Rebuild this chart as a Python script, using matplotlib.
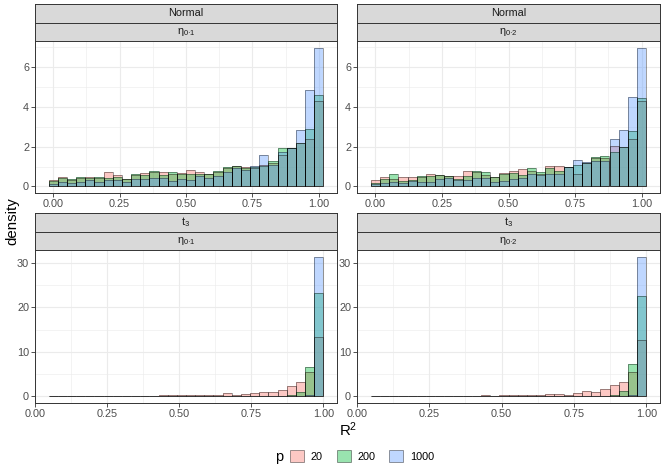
import numpy as np
import matplotlib
matplotlib.use("Agg")
import matplotlib.pyplot as plt
from matplotlib.patches import Patch
from matplotlib.ticker import MultipleLocator

plt.rcParams['font.family'] = ['Liberation Sans', 'DejaVu Sans']
plt.rcParams['mathtext.fontset'] = 'custom'
plt.rcParams['mathtext.rm'] = 'Liberation Sans'
plt.rcParams['mathtext.it'] = 'Liberation Sans:italic'

# ---------------- data ----------------
p_levels = ["20", "200", "1000"]
colors = ["#F8766D", "#00BA38", "#619CFF"]

dist_labels = ["Normal", "Normal", "t$_3$", "t$_3$"]
eta_labels = [r"$\mathrm{η}_{\mathrm{0·1}}$", r"$\mathrm{η}_{\mathrm{0·2}}$",
              r"$\mathrm{η}_{\mathrm{0·1}}$", r"$\mathrm{η}_{\mathrm{0·2}}$"]

# bin edges (30 bins)
normal_edges = np.linspace(-0.5 / 29, 1 + 0.5 / 29, 31)
t3_edges = np.linspace(0.0476, 1.0, 31)

# Normal, eta 0.1
n1_p20 = [0.30, 0.45, 0.30, 0.40, 0.45, 0.40, 0.70, 0.55, 0.35, 0.55,
          0.65, 0.70, 0.70, 0.60, 0.65, 0.80, 0.70, 0.60, 0.70, 0.90,
          1.05, 1.00, 0.90, 1.10, 1.20, 1.60, 1.95, 2.20, 2.40, 4.30]
n1_p200 = [0.25, 0.40, 0.35, 0.45, 0.40, 0.45, 0.40, 0.45, 0.35, 0.60,
           0.55, 0.75, 0.55, 0.70, 0.60, 0.60, 0.60, 0.60, 0.75, 1.00,
           1.05, 0.95, 1.00, 1.05, 1.30, 1.95, 1.95, 2.20, 2.90, 4.60]
n1_p1000 = [0.10, 0.20, 0.15, 0.20, 0.30, 0.20, 0.30, 0.30, 0.20, 0.35,
            0.35, 0.40, 0.40, 0.25, 0.35, 0.30, 0.50, 0.40, 0.50, 0.70,
            0.90, 0.80, 1.05, 1.60, 1.10, 1.75, 1.95, 2.85, 4.85, 6.95]

# Normal, eta 0.2
n2_p20 = [0.30, 0.45, 0.35, 0.45, 0.45, 0.45, 0.60, 0.55, 0.50, 0.50,
          0.75, 0.70, 0.55, 0.45, 0.65, 0.75, 0.85, 0.75, 0.60, 1.05,
          1.05, 1.00, 0.60, 1.20, 1.45, 1.45, 2.05, 2.00, 2.40, 4.30]
n2_p200 = [0.15, 0.35, 0.60, 0.25, 0.30, 0.50, 0.50, 0.55, 0.50, 0.35,
           0.50, 0.75, 0.70, 0.45, 0.60, 0.65, 0.55, 0.90, 0.70, 0.95,
           0.75, 1.00, 1.10, 1.20, 1.50, 1.55, 1.75, 2.00, 2.80, 4.45]
n2_p1000 = [0.10, 0.15, 0.20, 0.15, 0.25, 0.20, 0.20, 0.35, 0.40, 0.30,
            0.30, 0.40, 0.40, 0.20, 0.25, 0.35, 0.40, 0.60, 0.55, 0.60,
            0.60, 1.00, 1.35, 1.25, 1.30, 1.30, 2.40, 2.85, 4.50, 6.95]

# t3, eta 0.1
t1_p20 = [0.03, 0.03, 0.03, 0.04, 0.05, 0.05, 0.10, 0.12, 0.05, 0.10,
          0.12, 0.18, 0.20, 0.28, 0.30, 0.30, 0.25, 0.30, 0.25, 0.65,
          0.30, 0.50, 0.65, 0.95, 1.00, 1.40, 2.40, 3.30, 5.40, 13.40]
t1_p200 = [0.00, 0.00, 0.00, 0.00, 0.00, 0.00, 0.00, 0.00, 0.00, 0.00,
           0.00, 0.00, 0.00, 0.00, 0.00, 0.00, 0.00, 0.00, 0.00, 0.00,
           0.00, 0.00, 0.00, 0.00, 0.02, 0.05, 0.30, 1.00, 6.70, 23.30]
t1_p1000 = [0.00, 0.00, 0.00, 0.00, 0.00, 0.00, 0.00, 0.00, 0.00, 0.00,
            0.00, 0.00, 0.00, 0.00, 0.00, 0.00, 0.00, 0.00, 0.00, 0.00,
            0.00, 0.00, 0.00, 0.00, 0.00, 0.00, 0.00, 0.02, 0.20, 31.30]

# t3, eta 0.2
t2_p20 = [0.03, 0.03, 0.03, 0.04, 0.04, 0.05, 0.15, 0.05, 0.05, 0.08,
          0.10, 0.12, 0.20, 0.18, 0.20, 0.22, 0.25, 0.20, 0.25, 0.45,
          0.45, 0.40, 0.70, 1.10, 0.90, 1.60, 2.50, 3.20, 5.40, 12.60]
t2_p200 = [0.00, 0.00, 0.00, 0.00, 0.00, 0.00, 0.00, 0.00, 0.00, 0.00,
           0.00, 0.00, 0.00, 0.00, 0.00, 0.00, 0.00, 0.00, 0.00, 0.00,
           0.00, 0.00, 0.00, 0.00, 0.02, 0.05, 0.40, 1.10, 7.20, 22.50]
t2_p1000 = [0.00, 0.00, 0.00, 0.00, 0.00, 0.00, 0.00, 0.00, 0.00, 0.00,
            0.00, 0.00, 0.00, 0.00, 0.00, 0.00, 0.00, 0.00, 0.00, 0.00,
            0.00, 0.00, 0.00, 0.00, 0.00, 0.00, 0.00, 0.02, 0.20, 31.30]

panels = [
    (normal_edges, [n1_p20, n1_p200, n1_p1000]),
    (normal_edges, [n2_p20, n2_p200, n2_p1000]),
    (t3_edges, [t1_p20, t1_p200, t1_p1000]),
    (t3_edges, [t2_p20, t2_p200, t2_p1000]),
]

# ---------------- layout ----------------
W, H = 664, 471
fig = plt.figure(figsize=(W / 100, H / 100), dpi=100)
fig.patch.set_facecolor("white")

def ax_px(x0, y0, x1, y1):
    return fig.add_axes([x0 / W, 1 - y1 / H, (x1 - x0) / W, (y1 - y0) / H])

cols = [(35, 337), (357, 660)]
rows = [(4, 22.7, 41.3, 193.3), (213.3, 231.8, 250.3, 403.3)]

edge_col = "#333333"
tick_col = "#4D4D4D"
grid_col = "#EBEBEB"

for k, (edges, series) in enumerate(panels):
    r, c = divmod(k, 2)
    x0, x1 = cols[c]
    s0, s1, s2, pb = rows[r]
    # strips
    for (ya, yb, lab) in [(s0, s1, dist_labels[k]), (s1, s2, eta_labels[k])]:
        sa = ax_px(x0, ya, x1, yb)
        sa.set_facecolor("#D9D9D9")
        sa.set_xticks([]); sa.set_yticks([])
        for sp in sa.spines.values():
            sp.set_color(edge_col); sp.set_linewidth(0.7)
        sa.text(0.5, 0.5, lab, ha="center", va="center", fontsize=7.8,
                color="#1A1A1A", transform=sa.transAxes)
    ax = ax_px(x0, s2, x1, pb)
    edges = np.asarray(edges)
    centers = (edges[:-1] + edges[1:]) / 2
    bw = edges[1] - edges[0]
    ymax = 0
    for vals, col in zip(series, colors):
        ax.bar(centers, vals, width=bw, color=col, alpha=0.4, zorder=3,
               linewidth=0)
        ax.bar(centers, vals, width=bw, facecolor="none",
               edgecolor=(0, 0, 0, 0.45), linewidth=0.6, zorder=4)
        ymax = max(ymax, max(vals))
    lo, hi = edges[0], edges[-1]
    ax.set_xlim(lo - 0.05 * (hi - lo), hi + 0.05 * (hi - lo))
    ax.set_ylim(-0.05 * ymax, 1.05 * ymax)
    ax.xaxis.set_major_locator(MultipleLocator(0.25))
    ax.xaxis.set_minor_locator(MultipleLocator(0.125))
    if r == 0:
        ax.yaxis.set_major_locator(MultipleLocator(2))
        ax.yaxis.set_minor_locator(MultipleLocator(1))
    else:
        ax.yaxis.set_major_locator(MultipleLocator(10))
        ax.yaxis.set_minor_locator(MultipleLocator(5))
    ax.xaxis.set_major_formatter(matplotlib.ticker.FormatStrFormatter("%.2f"))
    ax.grid(True, which="major", color=grid_col, linewidth=0.8, zorder=0)
    ax.grid(True, which="minor", color=grid_col, linewidth=0.4, zorder=0)
    ax.set_axisbelow(True)
    ax.tick_params(which="major", length=2.8, width=0.6, color=edge_col,
                   labelsize=7.8, labelcolor=tick_col, pad=1.5)
    ax.tick_params(which="minor", length=0)
    for sp in ax.spines.values():
        sp.set_color(edge_col); sp.set_linewidth(0.7)

fig.text(12 / W, 1 - 221 / H, "density", rotation=90, ha="center",
         va="center", fontsize=10.8)
fig.text(348 / W, 1 - 430 / H, "R$^2$", ha="center", va="center",
         fontsize=10.8)

fig.text(279 / W, 1 - 457 / H, "p", ha="center", va="center", fontsize=10.5)
handles = [Patch(facecolor=matplotlib.colors.to_rgba(c, 0.4),
                 edgecolor=(0, 0, 0, 0.45), linewidth=0.6) for c in colors]
fig.legend(handles, p_levels, loc="center left",
           bbox_to_anchor=(290 / W, 1 - 456 / H), ncol=3, frameon=False,
           fontsize=7.8, handlelength=1.3, handleheight=1.3,
           handletextpad=0.6, columnspacing=1.3, borderaxespad=0,
           borderpad=0)

fig.savefig("out.png", dpi=100)
